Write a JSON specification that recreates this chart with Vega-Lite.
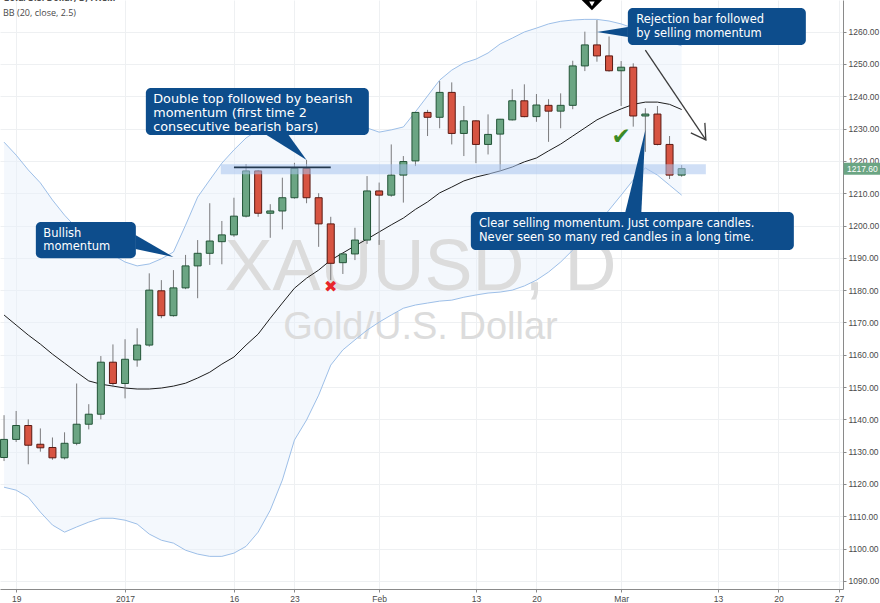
{
  "$schema": "https://vega.github.io/schema/vega-lite/v6.json",
  "width": 843,
  "height": 589,
  "autosize": {"type": "none"},
  "padding": {"left": 0, "top": 0, "right": 37, "bottom": 14},
  "background": "white",
  "config": {
    "view": {"stroke": null},
    "text": {"font": "Liberation Sans"}
  },
  "datasets": {
    "candles": [
      {"date": "2016-12-16", "open": 1128.2, "high": 1141.3, "low": 1127.1, "close": 1133.8},
      {"date": "2016-12-19", "open": 1133.8, "high": 1142.6, "low": 1133.0, "close": 1138.1},
      {"date": "2016-12-20", "open": 1138.1, "high": 1140.0, "low": 1126.1, "close": 1132.0},
      {"date": "2016-12-21", "open": 1132.3, "high": 1137.2, "low": 1130.0, "close": 1131.2},
      {"date": "2016-12-22", "open": 1131.3, "high": 1134.4, "low": 1127.5, "close": 1128.1},
      {"date": "2016-12-23", "open": 1128.1, "high": 1136.0, "low": 1127.6, "close": 1132.6},
      {"date": "2016-12-27", "open": 1132.6, "high": 1151.1, "low": 1132.0, "close": 1138.5},
      {"date": "2016-12-28", "open": 1138.5, "high": 1144.7, "low": 1136.9, "close": 1141.6},
      {"date": "2016-12-29", "open": 1141.6, "high": 1159.6, "low": 1140.0, "close": 1157.7},
      {"date": "2016-12-30", "open": 1157.7, "high": 1163.2, "low": 1150.0, "close": 1151.1},
      {"date": "2017-01-03", "open": 1151.1, "high": 1164.8, "low": 1146.5, "close": 1158.6},
      {"date": "2017-01-04", "open": 1158.4, "high": 1168.2, "low": 1156.3, "close": 1163.0},
      {"date": "2017-01-05", "open": 1163.0, "high": 1185.2, "low": 1162.5, "close": 1180.0},
      {"date": "2017-01-06", "open": 1179.8, "high": 1183.1, "low": 1171.3, "close": 1172.1},
      {"date": "2017-01-09", "open": 1172.1, "high": 1186.2, "low": 1171.8, "close": 1180.7},
      {"date": "2017-01-10", "open": 1180.7, "high": 1190.9, "low": 1180.3, "close": 1187.5},
      {"date": "2017-01-11", "open": 1187.5, "high": 1195.5, "low": 1177.5, "close": 1191.4},
      {"date": "2017-01-12", "open": 1191.4, "high": 1206.9, "low": 1187.8, "close": 1195.2},
      {"date": "2017-01-13", "open": 1195.0, "high": 1201.4, "low": 1188.0, "close": 1197.1},
      {"date": "2017-01-16", "open": 1197.1, "high": 1208.6, "low": 1196.5, "close": 1202.9},
      {"date": "2017-01-17", "open": 1202.9, "high": 1219.0, "low": 1202.5, "close": 1216.9},
      {"date": "2017-01-18", "open": 1216.9, "high": 1217.2, "low": 1202.7, "close": 1203.8},
      {"date": "2017-01-19", "open": 1203.8, "high": 1206.6, "low": 1196.2, "close": 1204.5},
      {"date": "2017-01-20", "open": 1204.5, "high": 1214.8, "low": 1198.8, "close": 1208.6},
      {"date": "2017-01-23", "open": 1208.6, "high": 1219.4, "low": 1208.3, "close": 1217.7},
      {"date": "2017-01-24", "open": 1217.7, "high": 1220.3, "low": 1206.9, "close": 1208.6},
      {"date": "2017-01-25", "open": 1208.6, "high": 1210.0, "low": 1193.4, "close": 1200.5},
      {"date": "2017-01-26", "open": 1200.5, "high": 1202.7, "low": 1183.1, "close": 1188.3},
      {"date": "2017-01-27", "open": 1188.5, "high": 1191.5, "low": 1185.0, "close": 1191.2},
      {"date": "2017-01-30", "open": 1191.2, "high": 1199.3, "low": 1189.3, "close": 1195.5},
      {"date": "2017-01-31", "open": 1195.5, "high": 1215.3, "low": 1194.3, "close": 1210.7},
      {"date": "2017-02-01", "open": 1210.7, "high": 1213.3, "low": 1194.0, "close": 1209.4},
      {"date": "2017-02-02", "open": 1209.4, "high": 1225.1, "low": 1208.9, "close": 1215.6},
      {"date": "2017-02-03", "open": 1215.6, "high": 1221.5, "low": 1207.1, "close": 1219.8},
      {"date": "2017-02-06", "open": 1220.0, "high": 1235.2, "low": 1218.4, "close": 1235.0},
      {"date": "2017-02-07", "open": 1235.0, "high": 1235.8, "low": 1227.7, "close": 1233.5},
      {"date": "2017-02-08", "open": 1233.5, "high": 1244.7, "low": 1230.1, "close": 1241.2},
      {"date": "2017-02-09", "open": 1241.2, "high": 1244.3, "low": 1225.1, "close": 1228.5},
      {"date": "2017-02-10", "open": 1228.5, "high": 1237.0, "low": 1221.5, "close": 1232.4},
      {"date": "2017-02-13", "open": 1232.4, "high": 1232.6, "low": 1219.3, "close": 1225.1},
      {"date": "2017-02-14", "open": 1225.1, "high": 1234.4, "low": 1222.0, "close": 1228.2},
      {"date": "2017-02-15", "open": 1228.3, "high": 1233.0, "low": 1217.2, "close": 1232.9},
      {"date": "2017-02-16", "open": 1232.7, "high": 1242.2, "low": 1232.5, "close": 1238.6},
      {"date": "2017-02-17", "open": 1238.6, "high": 1243.7, "low": 1233.5, "close": 1233.7},
      {"date": "2017-02-20", "open": 1233.7, "high": 1240.7, "low": 1232.1, "close": 1237.3},
      {"date": "2017-02-21", "open": 1237.2, "high": 1239.1, "low": 1225.9, "close": 1235.4},
      {"date": "2017-02-22", "open": 1235.4, "high": 1240.9, "low": 1230.1, "close": 1237.2},
      {"date": "2017-02-23", "open": 1237.2, "high": 1251.0, "low": 1236.0, "close": 1249.4},
      {"date": "2017-02-24", "open": 1249.4, "high": 1260.0, "low": 1247.8, "close": 1255.9},
      {"date": "2017-02-27", "open": 1255.9, "high": 1263.6, "low": 1250.7, "close": 1252.5},
      {"date": "2017-02-28", "open": 1252.5, "high": 1258.5, "low": 1247.6, "close": 1247.9},
      {"date": "2017-03-01", "open": 1247.9, "high": 1250.9, "low": 1237.0, "close": 1249.0},
      {"date": "2017-03-02", "open": 1249.0, "high": 1250.2, "low": 1230.6, "close": 1233.9},
      {"date": "2017-03-03", "open": 1233.9, "high": 1236.3, "low": 1222.8, "close": 1234.5},
      {"date": "2017-03-06", "open": 1234.5, "high": 1237.0, "low": 1224.8, "close": 1225.1},
      {"date": "2017-03-07", "open": 1225.1, "high": 1227.7, "low": 1214.4, "close": 1215.6},
      {"date": "2017-03-08", "open": 1215.6, "high": 1218.7, "low": 1215.1, "close": 1217.6}
    ],
    "bb": [
      {"date": "2016-12-16", "mid": 1172.3, "upper": 1225.8, "lower": 1119.0},
      {"date": "2016-12-19", "mid": 1169.2, "upper": 1221.8, "lower": 1118.1},
      {"date": "2016-12-20", "mid": 1166.1, "upper": 1217.2, "lower": 1115.9},
      {"date": "2016-12-21", "mid": 1163.3, "upper": 1213.2, "lower": 1111.3},
      {"date": "2016-12-22", "mid": 1160.2, "upper": 1207.9, "lower": 1107.3},
      {"date": "2016-12-23", "mid": 1157.4, "upper": 1203.2, "lower": 1105.1},
      {"date": "2016-12-27", "mid": 1154.6, "upper": 1199.2, "lower": 1106.7},
      {"date": "2016-12-28", "mid": 1151.9, "upper": 1195.5, "lower": 1108.2},
      {"date": "2016-12-29", "mid": 1150.9, "upper": 1192.4, "lower": 1109.4},
      {"date": "2016-12-30", "mid": 1150.3, "upper": 1190.9, "lower": 1109.4},
      {"date": "2017-01-03", "mid": 1149.7, "upper": 1188.7, "lower": 1108.8},
      {"date": "2017-01-04", "mid": 1149.4, "upper": 1187.5, "lower": 1107.6},
      {"date": "2017-01-05", "mid": 1149.4, "upper": 1188.1, "lower": 1104.5},
      {"date": "2017-01-06", "mid": 1149.7, "upper": 1189.7, "lower": 1102.6},
      {"date": "2017-01-09", "mid": 1150.3, "upper": 1191.8, "lower": 1101.7},
      {"date": "2017-01-10", "mid": 1151.2, "upper": 1200.1, "lower": 1099.5},
      {"date": "2017-01-11", "mid": 1152.8, "upper": 1208.8, "lower": 1098.3},
      {"date": "2017-01-12", "mid": 1154.6, "upper": 1214.1, "lower": 1097.6},
      {"date": "2017-01-13", "mid": 1157.1, "upper": 1219.3, "lower": 1097.6},
      {"date": "2017-01-16", "mid": 1159.3, "upper": 1223.4, "lower": 1098.6},
      {"date": "2017-01-17", "mid": 1163.0, "upper": 1227.1, "lower": 1100.7},
      {"date": "2017-01-18", "mid": 1166.4, "upper": 1229.6, "lower": 1105.1},
      {"date": "2017-01-19", "mid": 1171.3, "upper": 1231.1, "lower": 1111.9},
      {"date": "2017-01-20", "mid": 1176.0, "upper": 1232.0, "lower": 1121.2},
      {"date": "2017-01-23", "mid": 1180.6, "upper": 1233.0, "lower": 1133.6},
      {"date": "2017-01-24", "mid": 1183.7, "upper": 1233.3, "lower": 1139.8},
      {"date": "2017-01-25", "mid": 1186.2, "upper": 1233.0, "lower": 1147.5},
      {"date": "2017-01-26", "mid": 1189.3, "upper": 1232.7, "lower": 1156.8},
      {"date": "2017-01-27", "mid": 1191.5, "upper": 1232.3, "lower": 1161.5},
      {"date": "2017-01-30", "mid": 1193.7, "upper": 1231.4, "lower": 1164.6},
      {"date": "2017-01-31", "mid": 1195.8, "upper": 1230.2, "lower": 1167.6},
      {"date": "2017-02-01", "mid": 1198.0, "upper": 1228.9, "lower": 1170.1},
      {"date": "2017-02-02", "mid": 1200.2, "upper": 1229.6, "lower": 1172.3},
      {"date": "2017-02-03", "mid": 1202.3, "upper": 1230.5, "lower": 1174.4},
      {"date": "2017-02-06", "mid": 1205.0, "upper": 1235.2, "lower": 1175.4},
      {"date": "2017-02-07", "mid": 1207.3, "upper": 1240.1, "lower": 1176.0},
      {"date": "2017-02-08", "mid": 1210.1, "upper": 1245.0, "lower": 1176.6},
      {"date": "2017-02-09", "mid": 1211.9, "upper": 1248.1, "lower": 1176.9},
      {"date": "2017-02-10", "mid": 1213.8, "upper": 1250.3, "lower": 1177.8},
      {"date": "2017-02-13", "mid": 1215.0, "upper": 1251.5, "lower": 1178.5},
      {"date": "2017-02-14", "mid": 1215.9, "upper": 1253.4, "lower": 1179.1},
      {"date": "2017-02-15", "mid": 1216.9, "upper": 1256.2, "lower": 1179.4},
      {"date": "2017-02-16", "mid": 1218.1, "upper": 1258.0, "lower": 1180.0},
      {"date": "2017-02-17", "mid": 1219.7, "upper": 1259.9, "lower": 1181.3},
      {"date": "2017-02-20", "mid": 1220.9, "upper": 1261.1, "lower": 1183.1},
      {"date": "2017-02-21", "mid": 1223.1, "upper": 1262.4, "lower": 1185.6},
      {"date": "2017-02-22", "mid": 1225.2, "upper": 1263.2, "lower": 1188.7},
      {"date": "2017-02-23", "mid": 1227.7, "upper": 1263.6, "lower": 1192.4},
      {"date": "2017-02-24", "mid": 1230.2, "upper": 1263.8, "lower": 1196.1},
      {"date": "2017-02-27", "mid": 1232.7, "upper": 1263.8, "lower": 1200.1},
      {"date": "2017-02-28", "mid": 1234.5, "upper": 1263.3, "lower": 1204.8},
      {"date": "2017-03-01", "mid": 1236.1, "upper": 1262.4, "lower": 1209.4},
      {"date": "2017-03-02", "mid": 1237.5, "upper": 1261.1, "lower": 1214.1},
      {"date": "2017-03-03", "mid": 1238.2, "upper": 1259.6, "lower": 1217.8},
      {"date": "2017-03-06", "mid": 1238.2, "upper": 1258.0, "lower": 1215.6},
      {"date": "2017-03-07", "mid": 1237.5, "upper": 1256.8, "lower": 1212.5},
      {"date": "2017-03-08", "mid": 1235.9, "upper": 1255.6, "lower": 1209.4}
    ]
  },
  "layer": [
    {
      "data": {"name": "bb"},
      "mark": {"type": "area", "fill": "#e6effa", "opacity": 0.45},
      "encoding": {
        "x": {
          "field": "date", "type": "ordinal", "title": null,
          "scale": {
            "type": "point", "padding": 0.335,
            "domain": ["2016-12-16","2016-12-19","2016-12-20","2016-12-21","2016-12-22","2016-12-23","2016-12-27","2016-12-28","2016-12-29","2016-12-30","2017-01-03","2017-01-04","2017-01-05","2017-01-06","2017-01-09","2017-01-10","2017-01-11","2017-01-12","2017-01-13","2017-01-16","2017-01-17","2017-01-18","2017-01-19","2017-01-20","2017-01-23","2017-01-24","2017-01-25","2017-01-26","2017-01-27","2017-01-30","2017-01-31","2017-02-01","2017-02-02","2017-02-03","2017-02-06","2017-02-07","2017-02-08","2017-02-09","2017-02-10","2017-02-13","2017-02-14","2017-02-15","2017-02-16","2017-02-17","2017-02-20","2017-02-21","2017-02-22","2017-02-23","2017-02-24","2017-02-27","2017-02-28","2017-03-01","2017-03-02","2017-03-03","2017-03-06","2017-03-07","2017-03-08","2017-03-09","2017-03-10","2017-03-13","2017-03-14","2017-03-15","2017-03-16","2017-03-17","2017-03-20","2017-03-21","2017-03-22","2017-03-23","2017-03-24","2017-03-27"]
          },
          "axis": {
            "values": ["2016-12-19","2017-01-03","2017-01-16","2017-01-23","2017-02-01","2017-02-13","2017-02-20","2017-03-01","2017-03-13","2017-03-20","2017-03-27"],
            "labelExpr": "datum.value == '2017-01-03' ? '2017' : datum.value == '2017-02-01' ? 'Feb' : datum.value == '2017-03-01' ? 'Mar' : substring(datum.value, 8, 10)",
            "labelAngle": 0, "labelFont": "Liberation Sans", "labelFontSize": 8.5, "labelColor": "#4a4a4a",
            "labelPadding": 2, "tickSize": 3, "tickColor": "#8a8a8a", "domainColor": "#8a8a8a",
            "grid": true, "gridColor": "#eef0f2", "gridWidth": 1, "labelBaseline": "top", "labelOverlap": false
          }
        },
        "y": {
          "field": "upper", "type": "quantitative", "title": null,
          "scale": {"domain": [1087.5, 1269.8], "nice": false, "zero": false},
          "axis": {
            "orient": "right",
            "values": [1090,1100,1110,1120,1130,1140,1150,1160,1170,1180,1190,1200,1210,1220,1230,1240,1250,1260],
            "tickCount": 18,
            "format": ".2f", "labelFont": "Liberation Sans", "labelFontSize": 8.5, "labelColor": "#4a4a4a",
            "labelPadding": 2, "tickSize": 3, "tickColor": "#8a8a8a", "domainColor": "#8a8a8a",
            "grid": true, "gridColor": "#eef0f2", "gridWidth": 1, "labelOverlap": false
          }
        },
        "y2": {"field": "lower"}
      }
    },
    {
      "data": {"values": [{"date": "2017-02-06", "price": 1186.8, "t": "XAUUSD, D"}, {"date": "2017-02-06", "price": 1168.2, "t": "Gold/U.S. Dollar"}]},
      "mark": {"type": "text", "align": "center", "baseline": "middle", "dx": 5, "color": "#dcdcdc", "font": "Liberation Sans"},
      "encoding": {
        "x": {"field": "date", "type": "ordinal", "title": null},
        "y": {"field": "price", "type": "quantitative", "title": null},
        "text": {"field": "t"},
        "size": {"condition": {"test": "datum.t == 'XAUUSD, D'", "value": 72}, "value": 38}
      }
    },
    {
      "data": {"name": "bb"},
      "mark": {"type": "line", "color": "#9dbfe8", "strokeWidth": 1},
      "encoding": {"x": {"field": "date", "type": "ordinal", "title": null}, "y": {"field": "upper", "type": "quantitative", "title": null}}
    },
    {
      "data": {"name": "bb"},
      "mark": {"type": "line", "color": "#9dbfe8", "strokeWidth": 1},
      "encoding": {"x": {"field": "date", "type": "ordinal", "title": null}, "y": {"field": "lower", "type": "quantitative", "title": null}}
    },
    {
      "data": {"name": "bb"},
      "mark": {"type": "line", "color": "#1e1e1e", "strokeWidth": 1},
      "encoding": {"x": {"field": "date", "type": "ordinal", "title": null}, "y": {"field": "mid", "type": "quantitative", "title": null}}
    },
    {
      "data": {"name": "candles"},
      "mark": {"type": "rule", "color": "#7a7a7c", "strokeWidth": 1},
      "encoding": {
        "x": {"field": "date", "type": "ordinal", "title": null},
        "y": {"field": "low", "type": "quantitative", "title": null},
        "y2": {"field": "high"}
      }
    },
    {
      "data": {"name": "candles"},
      "mark": {"type": "bar", "width": 7, "strokeWidth": 1},
      "encoding": {
        "x": {"field": "date", "type": "ordinal", "title": null},
        "y": {"field": "open", "type": "quantitative", "title": null},
        "y2": {"field": "close"},
        "fill": {"condition": {"test": "datum.close >= datum.open", "value": "#6ba583"}, "value": "#d75442"},
        "stroke": {"condition": {"test": "datum.close >= datum.open", "value": "#225437"}, "value": "#5b1a13"}
      }
    },
    {
      "data": {"values": [{"a": "2017-01-13", "b": "2017-03-10", "lo": 1215.9, "hi": 1219.0}]},
      "mark": {"type": "rect", "fill": "#a9c5ee", "opacity": 0.55, "xOffset": -1},
      "encoding": {
        "x": {"field": "a", "type": "ordinal", "title": null},
        "x2": {"field": "b"},
        "y": {"field": "lo", "type": "quantitative", "title": null},
        "y2": {"field": "hi"}
      }
    },
    {
      "data": {"values": [{"a": "2017-01-16", "b": "2017-01-26", "p": 1218.0}]},
      "mark": {"type": "rule", "color": "#24394f", "strokeWidth": 1.6},
      "encoding": {
        "x": {"field": "a", "type": "ordinal", "title": null},
        "x2": {"field": "b"},
        "y": {"field": "p", "type": "quantitative", "title": null}
      }
    },
    {
      "data": {"values": [{"a": "2016-12-21", "b": "2017-01-04", "top": 1201.1, "bottom": 1189.9}]},
      "mark": {"type": "rect", "fill": "#0d4d8c", "cornerRadius": 5, "xOffset": -4.5, "x2Offset": -1.3},
      "encoding": {"x": {"field": "a", "type": "ordinal", "title": null}, "x2": {"field": "b"}, "y": {"field": "top", "type": "quantitative", "title": null}, "y2": {"field": "bottom"}}
    },
    {
      "data": {"values": [{"a": "2017-01-05", "b": "2017-01-31", "top": 1242.6, "bottom": 1228.0}]},
      "mark": {"type": "rect", "fill": "#0d4d8c", "cornerRadius": 5, "xOffset": -3.4, "x2Offset": 1.8},
      "encoding": {"x": {"field": "a", "type": "ordinal", "title": null}, "x2": {"field": "b"}, "y": {"field": "top", "type": "quantitative", "title": null}, "y2": {"field": "bottom"}}
    },
    {
      "data": {"values": [{"a": "2017-03-02", "b": "2017-03-22", "top": 1267.3, "bottom": 1255.9}]},
      "mark": {"type": "rect", "fill": "#0d4d8c", "cornerRadius": 5, "xOffset": -5.4, "x2Offset": 3.2},
      "encoding": {"x": {"field": "a", "type": "ordinal", "title": null}, "x2": {"field": "b"}, "y": {"field": "top", "type": "quantitative", "title": null}, "y2": {"field": "bottom"}}
    },
    {
      "data": {"values": [{"a": "2017-02-13", "b": "2017-03-21", "top": 1204.2, "bottom": 1192.4}]},
      "mark": {"type": "rect", "fill": "#0d4d8c", "cornerRadius": 5, "xOffset": -5.1, "x2Offset": 3.3},
      "encoding": {"x": {"field": "a", "type": "ordinal", "title": null}, "x2": {"field": "b"}, "y": {"field": "top", "type": "quantitative", "title": null}, "y2": {"field": "bottom"}}
    },
    {
      "data": {"values": [
        {"date": "2017-01-09", "p": 1190.25, "s": "M0,0 L-38,-22 L-38,-8 Z"},
        {"date": "2017-01-24", "p": 1220.3, "s": "M0,0 L-40,-25 L-18,-25 Z"},
        {"date": "2017-02-27", "p": 1259.9, "s": "M0,0 L31,-5 L31,5 Z"},
        {"date": "2017-03-03", "p": 1229.6, "s": "M0,0 L-4,82 L-20,82 Z"}
      ]},
      "mark": {"type": "point", "filled": true, "size": 4, "color": "#0d4d8c", "opacity": 1, "strokeWidth": 0},
      "encoding": {
        "x": {"field": "date", "type": "ordinal", "title": null},
        "y": {"field": "p", "type": "quantitative", "title": null},
        "shape": {"field": "s", "type": "nominal", "scale": null, "legend": null}
      }
    },
    {
      "data": {"values": [
        {"date": "2016-12-21", "p": 1201.1, "t": "Bullish\nmomentum"}
      ]},
      "mark": {"type": "text", "align": "left", "baseline": "top", "dx": 3, "dy": 6, "color": "white", "font": "DejaVu Sans", "fontSize": 11.5, "lineHeight": 13.5, "lineBreak": "\n"},
      "encoding": {"x": {"field": "date", "type": "ordinal", "title": null}, "y": {"field": "p", "type": "quantitative", "title": null}, "text": {"field": "t"}}
    },
    {
      "data": {"values": [
        {"date": "2017-01-05", "p": 1242.6, "t": "Double top followed by bearish\nmomentum (first time 2\nconsecutive bearish bars)"}
      ]},
      "mark": {"type": "text", "align": "left", "baseline": "top", "dx": 4, "dy": 5, "color": "white", "font": "DejaVu Sans", "fontSize": 12.8, "lineHeight": 14, "lineBreak": "\n"},
      "encoding": {"x": {"field": "date", "type": "ordinal", "title": null}, "y": {"field": "p", "type": "quantitative", "title": null}, "text": {"field": "t"}}
    },
    {
      "data": {"values": [
        {"date": "2017-03-02", "p": 1267.3, "t": "Rejection bar followed\nby selling momentum"}
      ]},
      "mark": {"type": "text", "align": "left", "baseline": "top", "dx": 3, "dy": 6, "color": "white", "font": "DejaVu Sans", "fontSize": 11.5, "lineHeight": 13.5, "lineBreak": "\n"},
      "encoding": {"x": {"field": "date", "type": "ordinal", "title": null}, "y": {"field": "p", "type": "quantitative", "title": null}, "text": {"field": "t"}}
    },
    {
      "data": {"values": [
        {"date": "2017-02-13", "p": 1204.2, "t": "Clear selling momentum. Just compare candles.\nNever seen so many red candles in a long time."}
      ]},
      "mark": {"type": "text", "align": "left", "baseline": "top", "dx": 3, "dy": 6, "color": "white", "font": "DejaVu Sans", "fontSize": 11.5, "lineHeight": 14, "lineBreak": "\n"},
      "encoding": {"x": {"field": "date", "type": "ordinal", "title": null}, "y": {"field": "p", "type": "quantitative", "title": null}, "text": {"field": "t"}}
    },
    {
      "data": {"values": [{"a": "2017-03-03", "b": "2017-03-10", "p1": 1254.3, "p2": 1226.5}]},
      "mark": {"type": "rule", "color": "#3c3c3c", "strokeWidth": 1.3},
      "encoding": {
        "x": {"field": "a", "type": "ordinal", "title": null}, "x2": {"field": "b"},
        "y": {"field": "p1", "type": "quantitative", "title": null}, "y2": {"field": "p2"}
      }
    },
    {
      "data": {"values": [{"date": "2017-03-10", "p": 1226.5, "s": "M-15,-7 L0,0 L-1,-17"}]},
      "mark": {"type": "point", "filled": false, "size": 4, "color": "#3c3c3c", "strokeWidth": 1.3, "opacity": 1},
      "encoding": {
        "x": {"field": "date", "type": "ordinal", "title": null},
        "y": {"field": "p", "type": "quantitative", "title": null},
        "shape": {"field": "s", "type": "nominal", "scale": null, "legend": null}
      }
    },
    {
      "data": {"values": [
        {"date": "2017-03-01", "p": 1227.4, "t": "✔", "c": "#3d8b25", "fs": 23},
        {"date": "2017-01-26", "p": 1181.0, "t": "✖", "c": "#e8262b", "fs": 16}
      ]},
      "mark": {"type": "text", "align": "center", "baseline": "middle", "font": "DejaVu Sans"},
      "encoding": {
        "x": {"field": "date", "type": "ordinal", "title": null},
        "y": {"field": "p", "type": "quantitative", "title": null},
        "text": {"field": "t"},
        "color": {"field": "c", "type": "nominal", "scale": null, "legend": null},
        "size": {"field": "fs", "type": "quantitative", "scale": null, "legend": null}
      }
    },
    {
      "data": {"values": [{"date": "2017-02-27", "p": 1269.8}]},
      "mark": {"type": "point", "shape": "diamond", "filled": true, "size": 420, "color": "#000000", "opacity": 1, "xOffset": -5},
      "encoding": {"x": {"field": "date", "type": "ordinal", "title": null}, "y": {"field": "p", "type": "quantitative", "title": null}}
    },
    {
      "data": {"values": [{"date": "2017-02-27", "p": 1268.6}]},
      "mark": {"type": "point", "shape": "triangle-down", "filled": true, "size": 30, "color": "#ffffff", "opacity": 1, "xOffset": -5},
      "encoding": {"x": {"field": "date", "type": "ordinal", "title": null}, "y": {"field": "p", "type": "quantitative", "title": null}}
    },
    {
      "data": {"values": [{"date": "2017-03-27", "p": 1217.6, "s": "M4.7,-6 H42 V6 H4.7 Z"}]},
      "mark": {"type": "point", "filled": true, "size": 4, "color": "#6ba583", "opacity": 1, "strokeWidth": 0},
      "encoding": {
        "x": {"field": "date", "type": "ordinal", "title": null},
        "y": {"field": "p", "type": "quantitative", "title": null},
        "shape": {"field": "s", "type": "nominal", "scale": null, "legend": null}
      }
    },
    {
      "data": {"values": [{"date": "2017-03-27", "p": 1217.6, "t": "1217.60"}]},
      "mark": {"type": "text", "align": "left", "baseline": "middle", "dx": 8, "color": "white", "fontSize": 8.5},
      "encoding": {"x": {"field": "date", "type": "ordinal", "title": null}, "y": {"field": "p", "type": "quantitative", "title": null}, "text": {"field": "t"}}
    },
    {
      "data": {"values": [{"date": "2016-12-16", "p": 1269.8, "t": "Gold/U.S. Dollar, D, FXCM"}]},
      "mark": {"type": "text", "align": "left", "baseline": "middle", "color": "#4a4a4a", "fontSize": 9, "fontWeight": "bold", "font": "Open Sans", "dx": -1, "dy": -2},
      "encoding": {"x": {"field": "date", "type": "ordinal", "title": null}, "y": {"field": "p", "type": "quantitative", "title": null}, "text": {"field": "t"}}
    },
    {
      "data": {"values": [{"date": "2016-12-16", "p": 1269.8, "t": "BB (20, close, 2.5)"}]},
      "mark": {"type": "text", "align": "left", "baseline": "middle", "color": "#4a4a4a", "fontSize": 9, "font": "Open Sans", "dx": -1, "dy": 13},
      "encoding": {"x": {"field": "date", "type": "ordinal", "title": null}, "y": {"field": "p", "type": "quantitative", "title": null}, "text": {"field": "t"}}
    }
  ]
}
